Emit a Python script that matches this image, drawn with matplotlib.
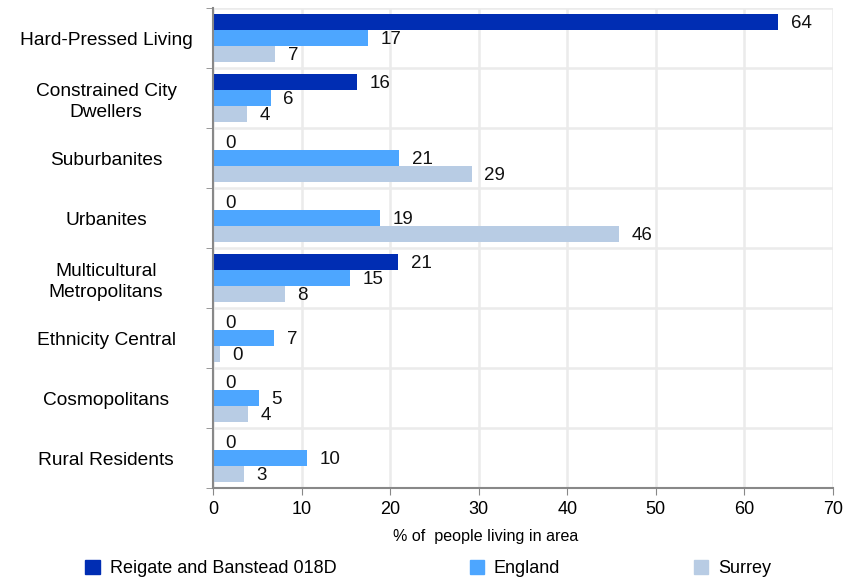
import matplotlib
matplotlib.use("Agg")
import matplotlib.pyplot as plt
import numpy as np
from matplotlib.patches import Patch

plt.rcParams['font.family'] = ['Liberation Sans', 'DejaVu Sans']

categories = ["Hard-Pressed Living", "Constrained City\nDwellers", "Suburbanites", "Urbanites",
              "Multicultural\nMetropolitans", "Ethnicity Central", "Cosmopolitans", "Rural Residents"]
series_names = ["Reigate and Banstead 018D", "England", "Surrey"]
reigate = [63.8, 16.3, 0, 0, 20.9, 0, 0, 0]
england = [17.5, 6.5, 21.0, 18.9, 15.5, 6.9, 5.2, 10.6]
surrey = [7.0, 3.8, 29.2, 45.8, 8.1, 0.8, 4.0, 3.5]
reigate_labels = ["64", "16", "0", "0", "21", "0", "0", "0"]
england_labels = ["17", "6", "21", "19", "15", "7", "5", "10"]
surrey_labels = ["7", "4", "29", "46", "8", "0", "4", "3"]
colors = ["#002DB3", "#4DA6FF", "#B8CCE4"]
xticks = [0, 10, 20, 30, 40, 50, 60, 70]

fig = plt.figure(figsize=(8.52, 5.77), dpi=100)
ax = fig.add_axes([0.25, 0.154, 0.7277, 0.832])

n = len(categories)
y = np.arange(n)
h = 0.8 / 3
for i, (vals, labs, c) in enumerate(zip([reigate, england, surrey],
                                        [reigate_labels, england_labels, surrey_labels], colors)):
    pos = y - 0.4 + h * (i + 0.5)
    ax.barh(pos, vals, height=h, color=c, zorder=3)
    for p, v, t in zip(pos, vals, labs):
        ax.annotate(t, (v, p), xytext=(9, -1), textcoords="offset points",
                    ha="left", va="center", fontsize=13.5, color="#111111", zorder=4)

ax.set_xlim(0, 70)
ax.set_ylim(n - 0.5, -0.5)
ax.set_xticks(xticks)
ax.tick_params(axis='x', labelsize=13, length=5, color="#888888", pad=4)
ax.set_yticks(y)
ax.set_yticklabels(categories, fontsize=13.8, linespacing=1.3)
for lab in ax.get_yticklabels():
    lab.set_horizontalalignment('center')
    lab.set_multialignment('center')
ax.tick_params(axis='y', which='major', length=0, pad=77)
ax.set_yticks(np.arange(-0.5, n, 1), minor=True)
ax.tick_params(axis='y', which='minor', length=5, color="#888888")

ax.grid(True, which='major', axis='x', color="#EBEBEB", lw=1.8, zorder=0)
ax.grid(True, which='minor', axis='y', color="#EBEBEB", lw=1.8, zorder=0)
for s in ['top', 'right']:
    ax.spines[s].set_visible(False)
for s in ['left', 'bottom']:
    ax.spines[s].set_color("#888888")
    ax.spines[s].set_linewidth(1.5)
    ax.spines[s].set_zorder(5)

ax.set_xlabel("% of  people living in area", fontsize=11.6)
ax.xaxis.set_label_coords(0.44, -0.085)

handles = [Patch(color=c, label=nm) for c, nm in zip(colors, series_names)]
fig.legend(handles=handles, loc='center left', bbox_to_anchor=(0.1, 0.015, 0.805, 0.0),
           mode='expand', ncol=3, frameon=False, fontsize=13, handlelength=0.8,
           handleheight=0.8, handletextpad=0.55, borderaxespad=0, borderpad=0)

fig.savefig("out.png", dpi=100)
